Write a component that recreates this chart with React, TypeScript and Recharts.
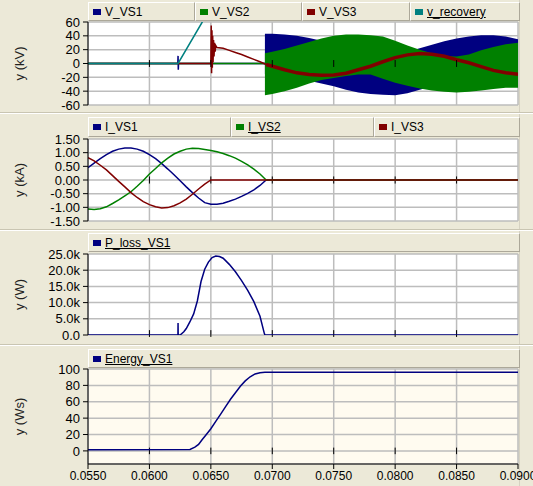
import React from "react";
import {
  ComposedChart,
  Line,
  Area,
  XAxis,
  YAxis,
  CartesianGrid,
  ReferenceLine,
} from "recharts";

// time axis
const xTicks = [0.055, 0.06, 0.065, 0.07, 0.075, 0.08, 0.085, 0.09];
const innerTicks = [0.06, 0.065, 0.07, 0.075, 0.08, 0.085];

// ---- panel 1 : voltages (kV) ----
const bandTime = [0.0694, 0.07, 0.071, 0.072, 0.073, 0.074, 0.075, 0.076, 0.077, 0.078, 0.079, 0.08, 0.081, 0.082, 0.083, 0.084, 0.085, 0.086, 0.087, 0.088, 0.089, 0.09];
const vs1Hi = [43, 43, 42, 40, 37, 33, 27, 21, 17, 14, 13, 14, 17, 22, 27, 32, 36, 39, 41, 41, 39, 35];
const vs1Lo = [-15, -16, -18, -21, -25, -29, -33, -38, -42, -44, -45, -46, -43, -38, -33, -28, -24, -21, -19, -19, -21, -24];
const vs2Hi = [15, 17, 21, 26, 31, 36, 40, 42, 42, 41, 39, 33, 26, 20, 15, 11, 10, 13, 19, 24, 28, 30];
const vs2Lo = [-46, -44, -40, -35, -29, -24, -21, -18, -16, -16, -22, -28, -32, -36, -39, -41, -42, -41, -39, -37, -35, -35];

const vs1LineT = [0.055, 0.06231, 0.06233, 0.06235, 0.06237, 0.0694];
const vs1LineV = [0, 0, 11, -9, 0, 0];
const vs2LineT = [0.055, 0.0694];
const vs2LineV = [0, 0];
const vs3T = [0.055, 0.065, 0.06503, 0.06506, 0.06509, 0.06512, 0.06515, 0.06518, 0.06522, 0.06526, 0.0653, 0.06535, 0.0654, 0.0655, 0.066, 0.0665, 0.067, 0.0675, 0.068, 0.0685, 0.069, 0.0695, 0.07, 0.071, 0.072, 0.073, 0.074, 0.075, 0.076, 0.077, 0.078, 0.079, 0.08, 0.081, 0.082, 0.083, 0.084, 0.085, 0.086, 0.087, 0.088, 0.089, 0.09];
const vs3V = [0, 0, 55, -14, 48, -6, 40, 2, 34, 10, 30, 17, 26, 23, 22, 19, 16, 13, 9.5, 6, 2.5, -1.5, -4, -9, -13.5, -16, -17, -16.5, -14, -9, -4, 2.5, 8.5, 12.5, 14.5, 13.5, 10.5, 5.5, 1, -4.5, -10, -13.5, -15.5];
const recT = [0.055, 0.06233, 0.0643, 0.0645];
const recV = [0, 0, 60, 66];

// ---- panel 2 : currents (kA) ----
const iTime = [0.055, 0.0555, 0.056, 0.0565, 0.057, 0.0575, 0.058, 0.0585, 0.059, 0.0595, 0.06, 0.0605, 0.061, 0.0615, 0.062, 0.0625, 0.063, 0.0635, 0.064, 0.0645, 0.065, 0.0655, 0.066, 0.0665, 0.067, 0.0675, 0.068, 0.0685, 0.069, 0.0695, 0.09];
const i1 = [0.45, 0.62, 0.78, 0.93, 1.05, 1.13, 1.17, 1.17, 1.13, 1.05, 0.93, 0.78, 0.6, 0.4, 0.19, -0.03, -0.25, -0.46, -0.66, -0.83, -0.89, -0.89, -0.85, -0.78, -0.7, -0.6, -0.49, -0.36, -0.2, 0, 0];
const i2 = [-1.06, -1.08, -1.05, -0.98, -0.86, -0.73, -0.58, -0.43, -0.23, -0.02, 0.22, 0.42, 0.63, 0.8, 0.95, 1.05, 1.13, 1.16, 1.15, 1.12, 1.08, 1.03, 0.97, 0.89, 0.8, 0.68, 0.55, 0.4, 0.22, 0, 0];
const i3 = [0.82, 0.7, 0.54, 0.37, 0.16, -0.05, -0.25, -0.46, -0.64, -0.79, -0.9, -0.98, -1.02, -1.01, -0.94, -0.84, -0.7, -0.52, -0.33, -0.15, 0, 0, 0, 0, 0, 0, 0, 0, 0, 0, 0];

// ---- panel 3 : switch loss (W) ----
const pT = [0.055, 0.06232, 0.06233, 0.06234, 0.0625, 0.0628, 0.063, 0.0633, 0.0636, 0.0639, 0.0642, 0.0645, 0.0648, 0.0651, 0.0654, 0.0657, 0.066, 0.0665, 0.067, 0.0675, 0.068, 0.0685, 0.069, 0.06935, 0.0694, 0.09];
const pV = [0, 0, 3700, 0, 0, 1000, 2000, 4100, 6500, 10500, 16500, 20300, 22500, 23900, 24400, 24200, 23700, 21800, 19500, 16800, 13800, 10300, 5800, 500, 0, 0];

// ---- panel 4 : energy (Ws) ----
const eT = [0.055, 0.0633, 0.0637, 0.064, 0.0643, 0.0646, 0.065, 0.0654, 0.0658, 0.0662, 0.0666, 0.067, 0.0674, 0.0678, 0.0682, 0.0686, 0.069, 0.0694, 0.09];
const eV = [1.5, 1.8, 4.5, 8, 14, 19.5, 27, 36, 45, 54, 63, 71, 79, 85.5, 90.5, 94, 95.5, 96, 96];

const zip = (t: number[], v: number[]) => t.map((x, i) => ({ t: x, v: v[i] }));

const bandData = bandTime.map((t, i) => ({
  t,
  b1: [vs1Lo[i], vs1Hi[i]],
  b2: [vs2Lo[i], vs2Hi[i]],
}));
const vs3All = zip(vs3T, vs3V);
const vs3Late = vs3All.filter((d) => d.t >= 0.0695);

const FONT = "'Liberation Sans', Arial, sans-serif";
const NAVY = "#000080";
const GREEN = "#008000";
const RED = "#800000";
const TEAL = "#008080";
const GRID = "#bdbdbd";
const BEIGE = "#ece9d8";

const margin = { top: 10, right: 15, bottom: 10, left: 8 };
const tickStyle = { fill: "#000", fontSize: 13, fontFamily: FONT };

function yLabel(text: string) {
  return {
    value: text,
    angle: -90,
    position: "insideLeft" as const,
    offset: 11,
    style: { textAnchor: "middle", fontSize: 13, fontFamily: FONT, fill: "#222", fontWeight: "normal" },
  };
}

function zeroTicks(lo: number, hi: number) {
  return innerTicks.map((t) => (
    <ReferenceLine
      key={"zt" + t}
      segment={[{ x: t, y: lo }, { x: t, y: hi }]}
      stroke="#000"
      strokeWidth={1}
      ifOverflow="visible"
    />
  ));
}

type Tab = { name: string; color: string; underline?: boolean };

function TabBar({ top, height, edges, tabs }: { top: number; height: number; edges: number[]; tabs: Tab[] }) {
  return (
    <>
      {tabs.map((tab, i) => (
        <div
          key={tab.name}
          style={{
            position: "absolute",
            left: edges[i],
            top,
            width: edges[i + 1] - edges[i] - 2,
            height: height - 2,
            background: BEIGE,
            borderTop: "1px solid #fff",
            borderLeft: "1px solid #fff",
            borderRight: "1px solid #aca899",
            borderBottom: "1px solid #aca899",
            fontFamily: FONT,
            fontSize: 12,
            color: "#000",
            display: "flex",
            alignItems: "center",
            whiteSpace: "nowrap",
            overflow: "hidden",
          }}
        >
          <span style={{ display: "inline-block", width: 8, height: 6, background: tab.color, marginLeft: 4, marginRight: 4 }} />
          <span style={{ textDecoration: tab.underline ? "underline" : "none" }}>{tab.name}</span>
        </div>
      ))}
    </>
  );
}

function Separator({ top }: { top: number }) {
  return (
    <>
      <div style={{ position: "absolute", left: 0, top, width: 533, height: 1, background: "#c9c5b2" }} />
      <div style={{ position: "absolute", left: 0, top: top + 1, width: 533, height: 1, background: "#fff" }} />
    </>
  );
}

function hiddenX() {
  return <XAxis type="number" dataKey="t" domain={[0.055, 0.09]} ticks={xTicks} hide allowDataOverflow />;
}

export default function App() {
  return (
    <div style={{ position: "absolute", left: 0, top: 0, width: 533, height: 486, background: BEIGE, overflow: "hidden" }}>
      <div style={{ position: "absolute", left: 519, top: 0, width: 1, height: 486, background: "#d6d2c2" }} />

      {/* panel 1 */}
      <div style={{ position: "absolute", left: 0, top: 12 }}>
        <ComposedChart width={533} height={103} margin={margin} data={bandData}>
          <CartesianGrid stroke={GRID} strokeWidth={1.5} fill="#fff" />
          {hiddenX()}
          <YAxis
            type="number"
            domain={[-60, 60]}
            ticks={[-60, -40, -20, 0, 20, 40, 60]}
            width={80}
            tickSize={5}
            tickMargin={3}
            interval={0}
            allowDataOverflow
            axisLine={{ stroke: "#000" }}
            tickLine={{ stroke: "#000" }}
            tick={tickStyle}
            label={yLabel("y (kV)")}
          />
          <Line data={zip(vs1LineT, vs1LineV)} dataKey="v" stroke={NAVY} strokeWidth={1.5} dot={false} isAnimationActive={false} />
          <Area dataKey="b1" stroke="none" fill={NAVY} fillOpacity={1} isAnimationActive={false} />
          <Line data={zip(vs2LineT, vs2LineV)} dataKey="v" stroke={GREEN} strokeWidth={1.5} dot={false} isAnimationActive={false} />
          <Area dataKey="b2" stroke="none" fill={GREEN} fillOpacity={1} isAnimationActive={false} />
          <Line data={vs3All} dataKey="v" stroke={RED} strokeWidth={1.5} dot={false} isAnimationActive={false} />
          <Line data={vs3Late} dataKey="v" stroke={RED} strokeWidth={3.5} dot={false} isAnimationActive={false} />
          <Line data={zip(recT, recV)} dataKey="v" stroke={TEAL} strokeWidth={1.5} dot={false} isAnimationActive={false} />
          {zeroTicks(-5, 5)}
        </ComposedChart>
      </div>
      <TabBar
        top={2}
        height={19}
        edges={[88, 195, 302, 410, 520]}
        tabs={[
          { name: "V_VS1", color: NAVY },
          { name: "V_VS2", color: GREEN },
          { name: "V_VS3", color: RED },
          { name: "v_recovery", color: TEAL, underline: true },
        ]}
      />
      <Separator top={112} />

      {/* panel 2 */}
      <div style={{ position: "absolute", left: 0, top: 129 }}>
        <ComposedChart width={533} height={102} margin={margin}>
          <CartesianGrid stroke={GRID} strokeWidth={1.5} fill="#fff" />
          {hiddenX()}
          <YAxis
            type="number"
            domain={[-1.5, 1.5]}
            ticks={[-1.5, -1, -0.5, 0, 0.5, 1, 1.5]}
            tickFormatter={(v: number) => v.toFixed(2)}
            width={80}
            tickSize={5}
            tickMargin={3}
            interval={0}
            allowDataOverflow
            axisLine={{ stroke: "#000" }}
            tickLine={{ stroke: "#000" }}
            tick={tickStyle}
            label={yLabel("y (kA)")}
          />
          {zeroTicks(-0.13, 0.13)}
          <Line data={zip(iTime, i1)} dataKey="v" stroke={NAVY} strokeWidth={1.5} dot={false} isAnimationActive={false} />
          <Line data={zip(iTime, i2)} dataKey="v" stroke={GREEN} strokeWidth={1.5} dot={false} isAnimationActive={false} />
          <Line data={zip(iTime, i3)} dataKey="v" stroke={RED} strokeWidth={1.5} dot={false} isAnimationActive={false} />
        </ComposedChart>
      </div>
      <TabBar
        top={117}
        height={20}
        edges={[88, 231, 374, 520]}
        tabs={[
          { name: "I_VS1", color: NAVY },
          { name: "I_VS2", color: GREEN, underline: true },
          { name: "I_VS3", color: RED },
        ]}
      />
      <Separator top={229} />

      {/* panel 3 */}
      <div style={{ position: "absolute", left: 0, top: 244 }}>
        <ComposedChart width={533} height={101} margin={margin}>
          <CartesianGrid stroke={GRID} strokeWidth={1.5} fill="#fff" />
          {hiddenX()}
          <YAxis
            type="number"
            domain={[0, 25000]}
            ticks={[0, 5000, 10000, 15000, 20000, 25000]}
            tickFormatter={(v: number) => (v === 0 ? "0.0" : (v / 1000).toFixed(1) + "k")}
            width={80}
            tickSize={5}
            tickMargin={3}
            interval={0}
            allowDataOverflow
            axisLine={{ stroke: "#000" }}
            tickLine={{ stroke: "#000" }}
            tick={tickStyle}
            label={yLabel("y (W)")}
          />
          {zeroTicks(-600, 1500)}
          <Line data={zip(pT, pV)} dataKey="v" stroke={NAVY} strokeWidth={1.5} dot={false} isAnimationActive={false} />
        </ComposedChart>
      </div>
      <TabBar top={233} height={19} edges={[88, 520]} tabs={[{ name: "P_loss_VS1", color: NAVY, underline: true }]} />
      <Separator top={344} />

      {/* panel 4 */}
      <div style={{ position: "absolute", left: 0, top: 359 }}>
        <ComposedChart width={533} height={127} margin={{ top: 10, right: 15, bottom: 0, left: 8 }}>
          <CartesianGrid stroke={GRID} strokeWidth={1.5} fill="#fffbf0" />
          <XAxis
            type="number"
            dataKey="t"
            domain={[0.055, 0.09]}
            ticks={xTicks}
            interval={0}
            allowDataOverflow
            height={22}
            tickSize={5}
            tickMargin={2}
            tickFormatter={(v: number) => v.toFixed(4)}
            axisLine={{ stroke: "#000" }}
            tickLine={{ stroke: "#000" }}
            tick={{ fill: "#000", fontSize: 12, fontFamily: FONT }}
          />
          <YAxis
            type="number"
            domain={[-16, 100]}
            ticks={[0, 20, 40, 60, 80, 100]}
            width={80}
            tickSize={5}
            tickMargin={3}
            interval={0}
            allowDataOverflow
            axisLine={{ stroke: "#000" }}
            tickLine={{ stroke: "#000" }}
            tick={tickStyle}
            label={yLabel("y (Ws)")}
          />
          {zeroTicks(-4, 4)}
          <Line data={zip(eT, eV)} dataKey="v" stroke={NAVY} strokeWidth={1.5} dot={false} isAnimationActive={false} />
        </ComposedChart>
      </div>
      <TabBar top={349} height={19} edges={[88, 520]} tabs={[{ name: "Energy_VS1", color: NAVY, underline: true }]} />
    </div>
  );
}
